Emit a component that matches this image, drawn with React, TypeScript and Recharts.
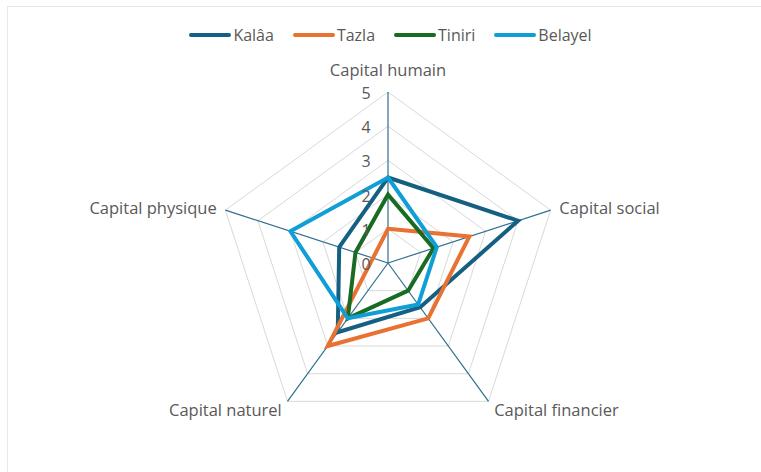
import { RadarChart, Radar, PolarGrid, PolarAngleAxis, PolarRadiusAxis } from 'recharts'

const categories = ['Capital humain', 'Capital social', 'Capital financier', 'Capital naturel', 'Capital physique']
const kalaa = [2.5, 4, 1.6, 2.5, 1.5]
const tazla = [1, 2.5, 2, 3, null]
const tiniri = [2, 1.4, 1, 2, 1]
const belayel = [2.5, 1.5, 1.5, 2, 3]

const series = [
  { key: 'Kalâa', color: '#156082' },
  { key: 'Tazla', color: '#E97132' },
  { key: 'Tiniri', color: '#196B24' },
  { key: 'Belayel', color: '#0F9ED5' },
]

const data = categories.map((c, i) => ({
  cat: c,
  'Kalâa': kalaa[i],
  Tazla: tazla[i],
  Tiniri: tiniri[i],
  Belayel: belayel[i],
}))

const CX = 388
const CY = 263
const FONT = '"Open Sans", sans-serif'
const GRAY = '#595959'

function AngleTick(p: any) {
  const { x, y, payload } = p
  let anchor = 'middle'
  let dx = 0
  let dy = -15
  if (x > CX + 2) { anchor = 'start'; dx = 1; dy = y < CY ? 0 : 2 }
  else if (x < CX - 2) { anchor = 'end'; dx = -1; dy = y < CY ? 0 : 2 }
  return (
    <text x={x + dx} y={y + dy} textAnchor={anchor} dominantBaseline="central" fill={GRAY} fontSize={16.5} fontFamily={FONT}>
      {payload.value}
    </text>
  )
}

function RadiusTick(p: any) {
  const { x, y, payload } = p
  return (
    <text x={x - 22} y={y + 1} textAnchor="middle" dominantBaseline="central" fill={GRAY} fontSize={16} fontFamily={FONT}>
      {payload.value}
    </text>
  )
}

// skip missing values so the outline joins the remaining points directly
function Outline(p: any) {
  const pts = (p.points || []).filter((pt: any) => pt.value != null && Number.isFinite(pt.x) && Number.isFinite(pt.y))
  return (
    <polygon
      points={pts.map((pt: any) => `${pt.x},${pt.y}`).join(' ')}
      fill="none"
      stroke={p.stroke}
      strokeWidth={p.strokeWidth}
      strokeLinejoin="miter"
    />
  )
}

export default function App() {
  return (
    <div style={{ position: 'absolute', left: 0, top: 0, width: 761, height: 472, background: '#fff', fontFamily: FONT }}>
      <div style={{ position: 'absolute', left: 7, top: 6, right: 0, bottom: 0, borderTop: '1px solid #e8e8e8', borderLeft: '1px solid #e8e8e8' }} />
      <div style={{ position: 'absolute', top: 24, left: 0, width: 781, display: 'flex', justifyContent: 'center', gap: 19 }}>
        {series.map(s => (
          <div key={s.key} style={{ display: 'flex', alignItems: 'center', gap: 2 }}>
            <div style={{ width: 42, height: 4, background: s.color, borderRadius: 2 }} />
            <span style={{ fontSize: 16, color: GRAY }}>{s.key}</span>
          </div>
        ))}
      </div>
      <RadarChart width={761} height={472} cx={CX} cy={CY} outerRadius={171} data={data} margin={{ top: 0, right: 0, bottom: 0, left: 0 }} style={{ position: 'absolute', left: 0, top: 0 }}>
        <PolarGrid gridType="polygon" radialLines={false} stroke="#d9d9d9" strokeWidth={1} />
        <PolarGrid gridType="polygon" polarRadius={[]} stroke="#2f6f8f" strokeWidth={1.2} />
        <PolarAngleAxis dataKey="cat" tick={AngleTick} tickLine={false} axisLine={false} />
        <PolarRadiusAxis angle={90} domain={[0, 5]} tickCount={6} axisLine={false} tick={RadiusTick} />
        {series.map(s => (
          <Radar key={s.key} dataKey={s.key} stroke={s.color} strokeWidth={4} fill="none" fillOpacity={0} shape={Outline} dot={false} isAnimationActive={false} />
        ))}
      </RadarChart>
    </div>
  )
}
